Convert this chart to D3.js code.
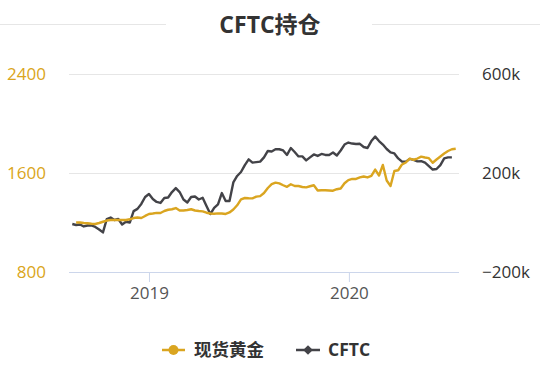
<!DOCTYPE html>
<html>
<head>
<meta charset="utf-8">
<script src="https://cdn.jsdelivr.net/npm/d3@7"></script>
<style>
html,body{margin:0;padding:0;background:#fff;}
svg text{font-family:"Open Sans","Noto Sans CJK SC",sans-serif;}
</style>
</head>
<body>
<svg id="chart" width="540" height="367"></svg>
<script>
// ---- data ----
const title = "CFTC持仓";
const seriesNames = ["现货黄金", "CFTC"];
const startDate = "2018-08-14"; // weekly (Tuesday) observations
const goldPrice = [null,1200,1200,1196,1194,1190,1188,1196,1206,1216,1220,1220,1220,1220,1220,1226,1236,1240,1236,1253,1269,1273,1278,1277,1293,1303,1307,1317,1297,1297,1301,1307,1297,1293,1290,1279,1273,1271,1274,1273,1269,1281,1305,1339,1387,1398,1396,1395,1409,1413,1438,1479,1510,1522,1516,1501,1488,1509,1495,1495,1487,1484,1493,1501,1459,1461,1461,1459,1457,1469,1475,1517,1543,1552,1552,1564,1572,1564,1576,1628,1580,1665,1539,1495,1616,1622,1669,1685,1716,1707,1717,1732,1725,1720,1683,1709,1733,1758,1778,1792,1796];
const cftcK = [-6,-10,-8,-16,-12,-12,-18,-28,-40,14,20,10,14,-8,3,0,46,55,75,103,115,95,83,79,99,101,123,139,123,93,81,103,105,93,100,67,34,59,73,119,87,87,162,188,204,232,255,242,244,246,263,289,287,296,296,291,273,301,285,267,267,251,263,275,269,277,273,273,283,271,291,315,323,319,317,318,305,301,329,347,329,315,297,283,279,259,246,246,257,253,247,248,242,228,214,216,232,259,263,263,null];
const leftTicks = [800, 1600, 2400];
const rightTicks = [-200000, 200000, 600000];
const xTickYears = ["2019-01-01", "2020-01-01"];
const xDomain = ["2018-08-08", "2020-07-20"];

// ---- layout ----
const svg = d3.select("#chart");
const W = 540;
const plot = {left: 69, right: 459, top: 74, bottom: 272};
const gold = "#DAA520", dark = "#434348";
const parse = d3.utcParse("%Y-%m-%d");
const d0 = parse(startDate);
const dates = goldPrice.map((_, i) => d3.utcDay.offset(d0, 7 * i));

const x = d3.scaleUtc().domain(xDomain.map(parse)).range([plot.left, plot.right]);
const yL = d3.scaleLinear().domain([800, 2400]).range([plot.bottom, plot.top]);
const yR = d3.scaleLinear().domain([-200000, 600000]).range([plot.bottom, plot.top]);

// title
svg.append("line").attr("x1", 0).attr("x2", 166).attr("y1", 24.5).attr("y2", 24.5).attr("stroke", "#e6e6e6");
svg.append("line").attr("x1", 372).attr("x2", W).attr("y1", 24.5).attr("y2", 24.5).attr("stroke", "#e6e6e6");
svg.append("text").attr("x", 270).attr("y", 33).attr("text-anchor", "middle")
  .attr("font-size", 23).attr("font-weight", "bold").attr("fill", "#333").text(title);

// grid
svg.append("g").selectAll("line").data(leftTicks.slice(1)).join("line")
  .attr("x1", plot.left).attr("x2", plot.right)
  .attr("y1", d => Math.round(yL(d)) + 0.5).attr("y2", d => Math.round(yL(d)) + 0.5)
  .attr("stroke", "#e6e6e6");

// x axis
const xAxis = d3.axisBottom(x).tickValues(xTickYears.map(parse)).tickFormat(d3.utcFormat("%Y"))
  .tickSize(10).tickSizeOuter(0);
const gx = svg.append("g").attr("transform", `translate(0,${plot.bottom})`).call(xAxis);
gx.select(".domain").attr("stroke", "#ccd6eb").attr("d", `M${plot.left},0.5H${plot.right}`);
gx.selectAll(".tick line").attr("stroke", "#ccd6eb");
gx.selectAll(".tick text").attr("font-size", 17).attr("fill", "#555").attr("dy", "0.8em")
  .style("font-family", '"Open Sans",sans-serif');

// left axis
const gl = svg.append("g").attr("transform", `translate(${plot.left - 23},0)`)
  .call(d3.axisLeft(yL).tickValues(leftTicks).tickSize(0).tickPadding(0).tickFormat(d3.format("d")));
gl.select(".domain").remove();
gl.selectAll(".tick text").attr("font-size", 17).attr("fill", gold).attr("dy", "0.35em");

// right axis
const gr = svg.append("g").attr("transform", `translate(${plot.right + 23},0)`)
  .call(d3.axisRight(yR).tickValues(rightTicks).tickSize(0).tickPadding(0)
    .tickFormat(d => (d < 0 ? "\u2212" : "") + Math.abs(d / 1000) + "k"));
gr.select(".domain").remove();
gr.selectAll(".tick text").attr("font-size", 17).attr("fill", "#333").attr("dy", "0.35em");

// lines
const goldData = dates.map((d, i) => ({d, v: goldPrice[i]}));
const cftcData = dates.map((d, i) => ({d, v: cftcK[i] == null ? null : cftcK[i] * 1000}));
svg.append("path").datum(cftcData)
  .attr("d", d3.line().defined(p => p.v != null).x(p => x(p.d)).y(p => yR(p.v)))
  .attr("fill", "none").attr("stroke", dark).attr("stroke-width", 2.4).attr("stroke-linejoin", "round");
svg.append("path").datum(goldData)
  .attr("d", d3.line().defined(p => p.v != null).x(p => x(p.d)).y(p => yL(p.v)))
  .attr("fill", "none").attr("stroke", gold).attr("stroke-width", 2.4).attr("stroke-linejoin", "round");

// legend
const ly = 350;
const leg = svg.append("g");
leg.append("line").attr("x1", 162).attr("x2", 185).attr("y1", ly).attr("y2", ly).attr("stroke", gold).attr("stroke-width", 2.5);
leg.append("circle").attr("cx", 173.5).attr("cy", ly).attr("r", 5).attr("fill", gold);
leg.append("text").attr("x", 194).attr("y", ly).attr("dy", "0.35em").attr("font-size", 17.5)
  .attr("font-weight", "bold").attr("fill", "#333").text(seriesNames[0]);
leg.append("line").attr("x1", 296).attr("x2", 320).attr("y1", ly).attr("y2", ly).attr("stroke", dark).attr("stroke-width", 2.5);
leg.append("path").attr("d", d3.symbol(d3.symbolDiamond2, 60)()).attr("transform", `translate(308,${ly})`).attr("fill", dark);
leg.append("text").attr("x", 328).attr("y", ly).attr("dy", "0.35em").attr("font-size", 17.5)
  .attr("font-weight", "bold").attr("fill", "#333").text(seriesNames[1]);
</script>
</body>
</html>
